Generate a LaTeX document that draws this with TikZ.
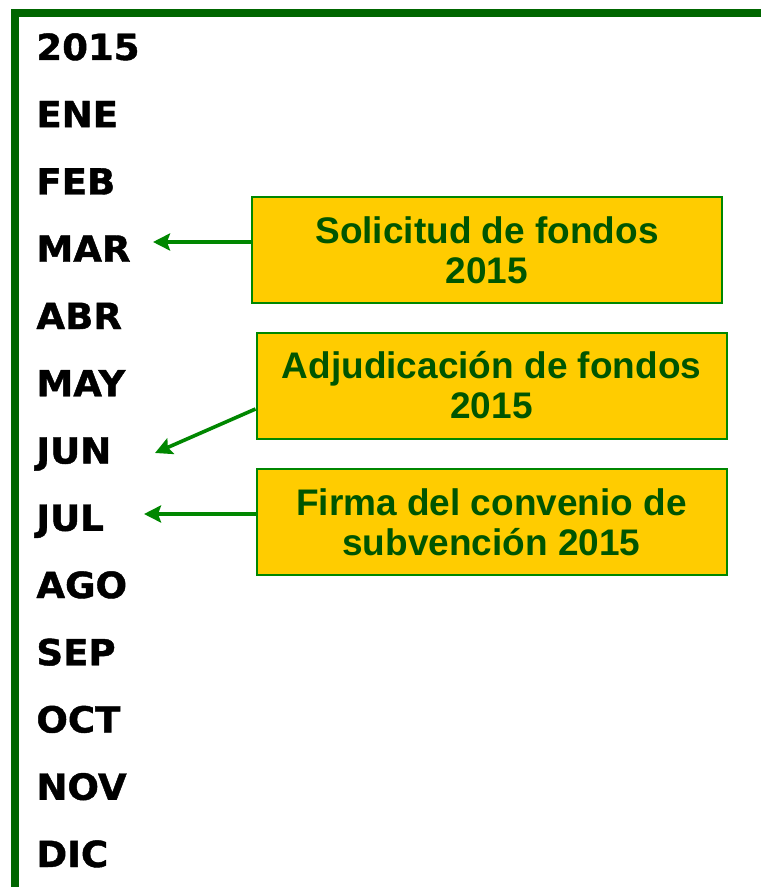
\documentclass[tikz,border=0pt]{standalone}
\usepackage{fontspec}
\usepackage{xcolor}
\usepackage{tikz}
\usetikzlibrary{arrows.meta,positioning}
\newfontfamily\monthfont[FakeStretch=1.03,BoldFeatures={FakeBold=1.2}]{DejaVu Sans}
\newfontfamily\boxfont{Liberation Sans}
\definecolor{framegreen}{RGB}{0,102,0}
\definecolor{arrowgreen}{RGB}{0,135,0}
\definecolor{textgreen}{RGB}{0,85,0}
\definecolor{boxyellow}{RGB}{255,204,0}
\tikzset{
  month/.style={anchor=base west, inner sep=0pt, font=\monthfont\bfseries\fontsize{18}{20}\selectfont},
  event/.style={draw=arrowgreen, line width=1pt, fill=boxyellow, text=textgreen, align=center,
    minimum width=235pt, minimum height=53pt, inner sep=0pt,
    font=\boxfont\bfseries\fontsize{18.5}{20}\selectfont},
  arr/.style={arrowgreen, line width=1.8pt, -{Stealth[length=8.5pt,width=8.5pt,inset=1.5pt]}}
}
\begin{document}
\begin{tikzpicture}[x=0.5pt,y=-0.5pt]
  \useasboundingbox (0,0) rectangle (761,887);
  \fill[white] (0,0) rectangle (761,887);
  \draw[framegreen, line width=4pt, line join=miter] (15,887) -- (15,13) -- (761,13); % marco
  % meses
  \foreach \m [count=\i from 0] in {2015,ENE,FEB,MAR,ABR,MAY,JUN,JUL,AGO,SEP,OCT,NOV,DIC}
    \node[month] (m\i) at (36,60+67.25*\i) {\m};
  % cajas
  \node[event] (sol) at (487,250) {Solicitud de fondos\\2015};
  \node[event] (adj) at (491.5,385.5) {Adjudicación de fondos\\2015};
  \node[event] (fir) at (491.5,522) {Firma del convenio de\\subvención 2015};
  \coordinate (tMAR) at (153,242);
  \coordinate (tJUN) at (155,453);
  \coordinate (tJUL) at (144,514);
  \draw[arr] (sol.west |- tMAR) -- (tMAR);
  \draw[arr] ([yshift=-11.75pt]adj.west) -- (tJUN);
  \draw[arr] (fir.west |- tJUL) -- (tJUL);
\end{tikzpicture}
\end{document}
